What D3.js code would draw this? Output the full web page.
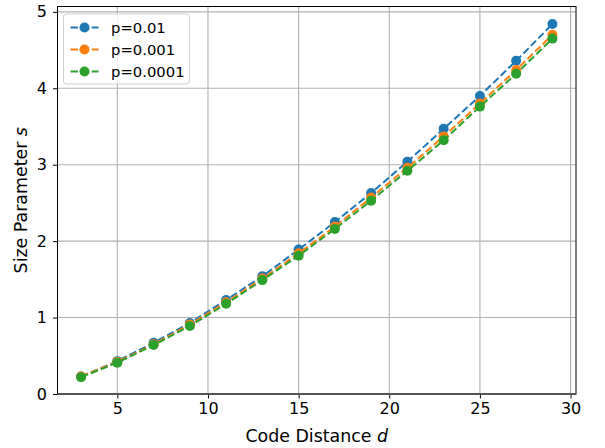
<!DOCTYPE html>
<html>
<head>
<meta charset="utf-8">
<script src="https://cdn.jsdelivr.net/npm/d3@7"></script>
<style>
  body { margin: 0; background: #fff; }
  text { font-family: "DejaVu Sans", sans-serif; fill: #000; }
</style>
</head>
<body>
<div id="chart"></div>
<script>
// data
var distances = [3, 5, 7, 9, 11, 13, 15, 17, 19, 21, 23, 25, 27, 29];
var s_p01   = [0.23, 0.43, 0.67, 0.93, 1.23, 1.54, 1.89, 2.25, 2.63, 3.04, 3.47, 3.90, 4.36, 4.84];
var s_p001  = [0.23, 0.42, 0.65, 0.91, 1.20, 1.51, 1.84, 2.19, 2.57, 2.96, 3.37, 3.80, 4.24, 4.70];
var s_p0001 = [0.22, 0.41, 0.64, 0.89, 1.18, 1.49, 1.81, 2.16, 2.53, 2.92, 3.32, 3.76, 4.19, 4.65];
var seriesNames = ["p=0.01", "p=0.001", "p=0.0001"];
var colors = ["#1f77b4", "#ff7f0e", "#2ca02c"];
var xTicks = [5, 10, 15, 20, 25, 30];
var yTicks = [0, 1, 2, 3, 4, 5];

var width = 605, height = 448;
var margin = { top: 6.5, right: 29, bottom: 54, left: 57.5 };
var chartWidth = width - margin.left - margin.right;
var chartHeight = height - margin.top - margin.bottom;

var svg = d3.select("#chart").append("svg")
    .attr("width", width)
    .attr("height", height);

var g = svg.append("g")
    .attr("transform", `translate(${margin.left},${margin.top})`);

var x = d3.scaleLinear().domain([1.7, 30.3]).range([0, chartWidth]);
var y = d3.scaleLinear().domain([0, 5.07]).range([chartHeight, 0]);

// grid
g.append("g").selectAll("line").data(xTicks).enter().append("line")
    .attr("x1", d => x(d)).attr("x2", d => x(d))
    .attr("y1", 0).attr("y2", chartHeight)
    .attr("stroke", "#b0b0b0").attr("stroke-width", 1.1);
g.append("g").selectAll("line").data(yTicks).enter().append("line")
    .attr("y1", d => y(d)).attr("y2", d => y(d))
    .attr("x1", 0).attr("x2", chartWidth)
    .attr("stroke", "#b0b0b0").attr("stroke-width", 1.1);

// axes
var xAxis = g.append("g")
    .attr("transform", `translate(0,${chartHeight})`)
    .call(d3.axisBottom(x).tickValues(xTicks).tickFormat(d3.format("d")).tickSize(4.5).tickPadding(4));
var yAxis = g.append("g")
    .call(d3.axisLeft(y).tickValues(yTicks).tickFormat(d3.format("d")).tickSize(4.5).tickPadding(6));
[xAxis, yAxis].forEach(function(a) {
  a.select(".domain").remove();
  a.selectAll("text").style("font-size", "16px").style("font-family", "DejaVu Sans");
  a.selectAll("line").attr("stroke", "#000").attr("stroke-width", 1);
});

// frame
g.append("rect")
    .attr("width", chartWidth).attr("height", chartHeight)
    .attr("fill", "none").attr("stroke", "#000").attr("stroke-width", 1);
g.append("line")
    .attr("x1", 0).attr("x2", chartWidth)
    .attr("y1", chartHeight).attr("y2", chartHeight)
    .attr("stroke", "#555").attr("stroke-width", 1.8);

// series
var allSeries = [s_p01, s_p001, s_p0001];
var line = d3.line().x((d, i) => x(distances[i])).y(d => y(d));

allSeries.forEach(function(vals, k) {
  var sg = g.append("g");
  sg.append("path")
      .datum(vals)
      .attr("d", line)
      .attr("fill", "none")
      .attr("stroke", colors[k])
      .attr("stroke-width", 2)
      .attr("stroke-dasharray", "7.4,3.2");
  sg.selectAll("circle").data(vals).enter().append("circle")
      .attr("cx", (d, i) => x(distances[i]))
      .attr("cy", d => y(d))
      .attr("r", 5)
      .attr("fill", colors[k]);
});

// legend
var legend = g.append("g").attr("transform", "translate(6,7.5)");
legend.append("rect")
    .attr("width", 126).attr("height", 70)
    .attr("rx", 3)
    .attr("fill", "#fff").attr("fill-opacity", 0.8)
    .attr("stroke", "#d0d0d0").attr("stroke-width", 1);
seriesNames.forEach(function(name, k) {
  var ly = 13.5 + k * 22;
  legend.append("line")
      .attr("x1", 7).attr("x2", 35)
      .attr("y1", ly).attr("y2", ly)
      .attr("stroke", colors[k]).attr("stroke-width", 2)
      .attr("stroke-dasharray", "7.4,3.2");
  legend.append("circle")
      .attr("cx", 21).attr("cy", ly).attr("r", 5)
      .attr("fill", colors[k]);
  legend.append("text")
      .attr("x", 47.5).attr("y", ly)
      .attr("dy", "0.35em")
      .style("font-size", "14.8px")
      .text(name);
});

// axis labels
svg.append("text")
    .attr("x", margin.left + chartWidth / 2)
    .attr("y", 442)
    .attr("text-anchor", "middle")
    .style("font-size", "17.4px")
    .html('Code Distance <tspan font-style="italic">d</tspan>');

svg.append("text")
    .attr("transform", `translate(27,${margin.top + chartHeight / 2}) rotate(-90)`)
    .attr("text-anchor", "middle")
    .style("font-size", "17.4px")
    .html('Size Parameter <tspan font-style="italic">s</tspan>');
</script>
</body>
</html>
